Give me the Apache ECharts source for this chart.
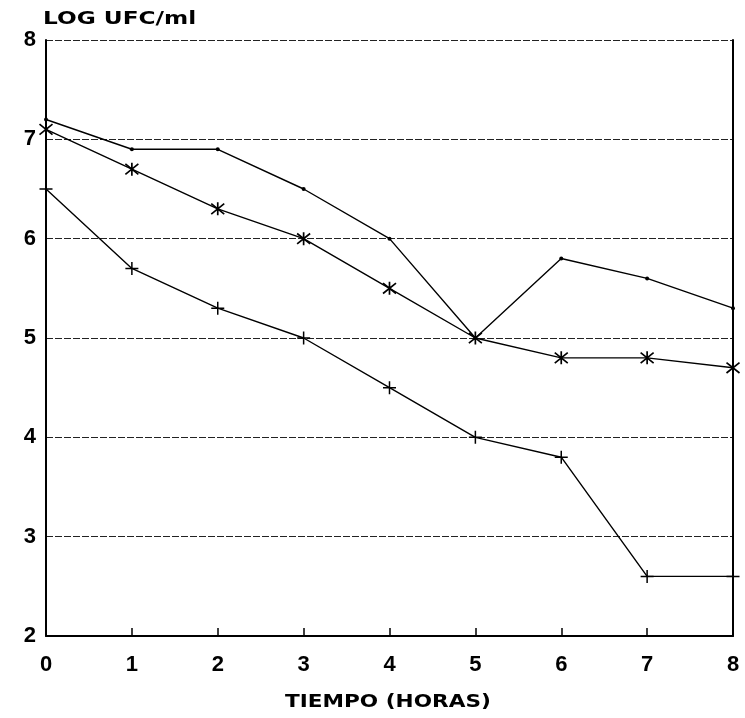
<!DOCTYPE html>
<html><head><meta charset="utf-8">
<script src="https://cdn.jsdelivr.net/npm/echarts@6/dist/echarts.min.js"></script>
<style>html,body{margin:0;padding:0;background:#fff}#c{width:745px;height:718px}</style>
</head><body><div id="c"></div>
<script>
var hours = [0, 1, 2, 3, 4, 5, 6, 7, 8];
var yTicks = [2, 3, 4, 5, 6, 7, 8];
var seriesDot = [7.2, 6.9, 6.9, 6.5, 6.0, 5.0, 5.8, 5.6, 5.3];
var seriesStar = [7.1, 6.7, 6.3, 6.0, 5.5, 5.0, 4.8, 4.8, 4.7];
var seriesPlus = [6.5, 5.7, 5.3, 5.0, 4.5, 4.0, 3.8, 2.6, 2.6];
var yTitle = 'LOG UFC/ml';
var xTitle = 'TIEMPO (HORAS)';

function pairs(vals) { return hours.map(function (h, i) { return [h, vals[i]]; }); }

var chart = echarts.init(document.getElementById('c'), null, {renderer: 'canvas'});
var labelFont = {color: '#000', fontFamily: 'Liberation Sans', fontWeight: 'bold', fontSize: 22};
var lineBase = {type: 'line', lineStyle: {color: '#000', width: 1.4}, z: 5};
chart.setOption({
  animation: false,
  backgroundColor: '#fff',
  grid: {left: 46, right: 12, top: 40, bottom: 82},
  xAxis: {
    type: 'value', min: hours[0], max: hours[hours.length - 1], interval: 1,
    axisLine: {lineStyle: {color: '#000', width: 2}},
    axisTick: {inside: true, length: 8, lineStyle: {color: '#000', width: 1.5}},
    axisLabel: Object.assign({margin: 18}, labelFont),
    splitLine: {show: false}
  },
  yAxis: [{
    type: 'value', min: yTicks[0], max: yTicks[yTicks.length - 1], interval: 1,
    axisLine: {show: true, lineStyle: {color: '#000', width: 2}},
    axisTick: {show: false},
    axisLabel: Object.assign({margin: 10}, labelFont),
    splitLine: {show: true, lineStyle: {color: '#222', width: 1, type: [7, 2]}}
  }, {
    type: 'value', position: 'right', min: yTicks[0], max: yTicks[yTicks.length - 1], interval: 1,
    axisLine: {show: true, lineStyle: {color: '#000', width: 2}},
    axisTick: {show: false}, axisLabel: {show: false}, splitLine: {show: false}
  }],
  series: [
    Object.assign({}, lineBase, {
      name: 'dot', data: pairs(seriesDot), symbol: 'circle', symbolSize: 4,
      itemStyle: {color: '#000'}
    }),
    Object.assign({}, lineBase, {
      name: 'star', data: pairs(seriesStar),
      symbol: 'path://M5,0L5,10M1,1L9,9M1,9L9,1', symbolSize: 13,
      itemStyle: {color: 'none', borderColor: '#000', borderWidth: 1.7}
    }),
    Object.assign({}, lineBase, {
      name: 'plus', data: pairs(seriesPlus),
      symbol: 'path://M0,5L10,5M5,0L5,10', symbolSize: 13,
      itemStyle: {color: 'none', borderColor: '#000', borderWidth: 1.5}
    })
  ],
  graphic: [{
    type: 'text', left: 43, top: 10,
    style: {text: yTitle, fill: '#000', font: 'bold 18px "DejaVu Sans"'},
    scaleX: 1.29
  }, {
    type: 'text', left: 285, top: 693,
    style: {text: xTitle, fill: '#000', font: 'bold 18px "DejaVu Sans"'},
    scaleX: 1.2
  }]
});
</script></body></html>
